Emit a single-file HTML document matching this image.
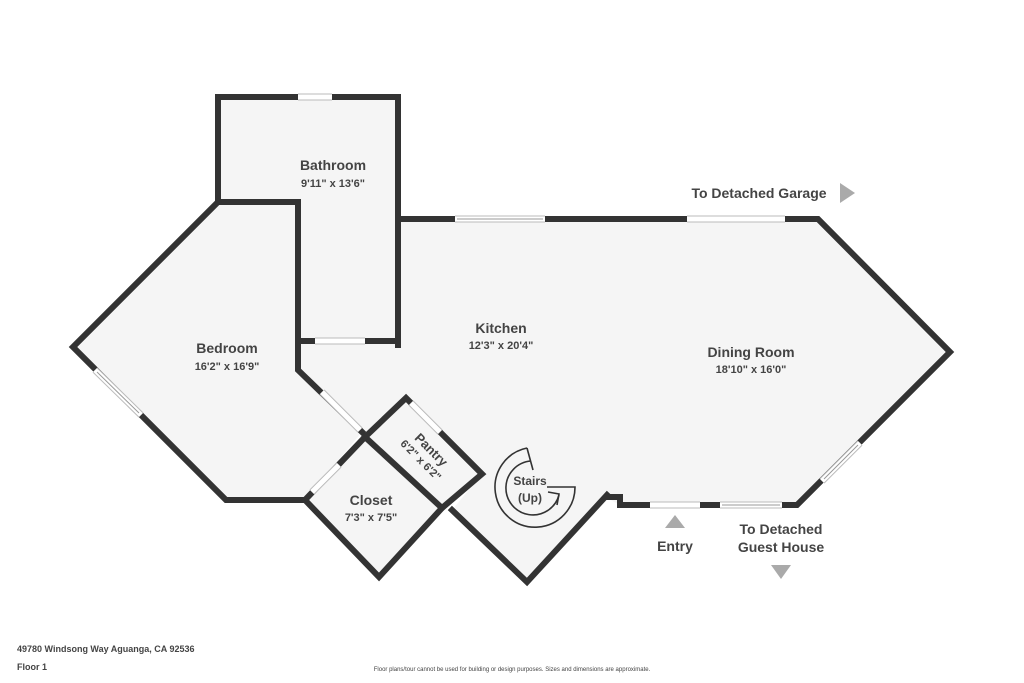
<!DOCTYPE html>
<html><head><style>
html,body{margin:0;padding:0;background:#fff;width:1024px;height:683px;overflow:hidden}
text{font-family:"Liberation Sans",sans-serif;fill:#444}
</style></head><body>
<svg width="1024" height="683" viewBox="0 0 1024 683" xmlns="http://www.w3.org/2000/svg">
<g fill="#f5f5f5" stroke="none">
<polygon points="218,97 398,97 398,341 298,341 298,202 218,202"/>
<polygon points="218,202 298,202 298,370 362,432 305,500 226,500 73,347"/>
<polygon points="398,219 818,219 950,352 797,505 620,505 607,498 527,582 452,510 482,474 406,398 365,437 362,432 298,370 298,341 398,341"/>
<polygon points="365,437 406,398 482,474 442,508"/>
<polygon points="305,500 365,437 442,508 379,577"/>
</g>
<g fill="none" stroke="#333" stroke-width="6" stroke-linejoin="miter" stroke-linecap="square">
<polyline points="218,202 218,97 398,97 398,345"/>
<polyline points="218,202 298,202 298,370 362,432"/>
<line x1="298" y1="341" x2="398" y2="341"/>
<polyline points="218,202 73,347 226,500 305,500"/>
<polyline points="398,219 818,219 950,352 797,505 620,505"/>
<polyline points="607,495 527,582 452,510"/>
<polyline points="305,500 365,437 442,508 379,577 305,500"/>
<polyline points="365,437 406,398 482,474 442,508"/>
<polyline points="607,497 620,497 620,505"/>
</g>
<g stroke-linecap="butt">
<g stroke="#bbb" stroke-width="7">
<line x1="298" y1="97" x2="332" y2="97"/>
<line x1="315" y1="341" x2="365" y2="341"/>
<line x1="455" y1="219" x2="545" y2="219"/>
<line x1="687" y1="219" x2="785" y2="219"/>
<line x1="650" y1="505" x2="700" y2="505"/>
<line x1="720" y1="505" x2="782" y2="505"/>
<line x1="95" y1="370" x2="141" y2="415"/>
<line x1="322" y1="392" x2="360" y2="430"/>
<line x1="312" y1="492" x2="339" y2="465"/>
<line x1="411" y1="403" x2="440" y2="432"/>
<line x1="822" y1="481" x2="860" y2="443"/>
</g>
<g stroke="#fff" stroke-width="5">
<line x1="298" y1="97" x2="332" y2="97"/>
<line x1="315" y1="341" x2="365" y2="341"/>
<line x1="455" y1="219" x2="545" y2="219"/>
<line x1="687" y1="219" x2="785" y2="219"/>
<line x1="650" y1="505" x2="700" y2="505"/>
<line x1="720" y1="505" x2="782" y2="505"/>
<line x1="95" y1="370" x2="141" y2="415"/>
<line x1="322" y1="392" x2="360" y2="430"/>
<line x1="312" y1="492" x2="339" y2="465"/>
<line x1="411" y1="403" x2="440" y2="432"/>
<line x1="822" y1="481" x2="860" y2="443"/>
</g>
<g stroke="#999" stroke-width="1">
<line x1="457" y1="219" x2="543" y2="219"/>
<line x1="722" y1="505" x2="780" y2="505"/>
<line x1="97" y1="372" x2="139" y2="413"/>
<line x1="824" y1="479" x2="858" y2="445"/>
</g>
</g>
<g fill="none" stroke="#333" stroke-width="1.6">
<path d="M527,448 A40,40 0 1 0 575,487 L547,487"/>
<path d="M527,448 L533,470"/>
<path d="M531,461 A27,27 0 1 0 559,495"/>
<polyline points="548,492 559,494 557,505"/>
</g>
<g text-anchor="middle" font-weight="bold">
<text x="333" y="170" font-size="14">Bathroom</text>
<text x="333" y="187" font-size="11">9'11" x 13'6"</text>
<text x="227" y="353" font-size="14">Bedroom</text>
<text x="227" y="370" font-size="11">16'2" x 16'9"</text>
<text x="501" y="333" font-size="14">Kitchen</text>
<text x="501" y="349" font-size="11">12'3" x 20'4"</text>
<text x="751" y="357" font-size="14">Dining Room</text>
<text x="751" y="373" font-size="11">18'10" x 16'0"</text>
<text x="371" y="505" font-size="14">Closet</text>
<text x="371" y="521" font-size="11">7'3" x 7'5"</text>
<g transform="translate(426,455) rotate(45)">
<text x="0" y="-3" font-size="13">Pantry</text>
<text x="0" y="11" font-size="11">6'2" x 6'2"</text>
</g>
<text x="530" y="485" font-size="12">Stairs</text>
<text x="530" y="502" font-size="12">(Up)</text>
<text x="759" y="198" font-size="14">To Detached Garage</text>
<text x="675" y="551" font-size="14">Entry</text>
<text x="781" y="534" font-size="14">To Detached</text>
<text x="781" y="552" font-size="14">Guest House</text>
</g>
<g fill="#aaa">
<polygon points="840,183 855,193 840,203"/>
<polygon points="665,528 685,528 675,515"/>
<polygon points="771,565 791,565 781,579"/>
</g>
<text x="17" y="652" font-size="9" font-weight="bold">49780 Windsong Way Aguanga, CA 92536</text>
<text x="17" y="670" font-size="9" font-weight="bold">Floor 1</text>
<text x="512" y="671" font-size="6" text-anchor="middle">Floor plans/tour cannot be used for building or design purposes. Sizes and dimensions are approximate.</text>
</svg>
</body></html>
